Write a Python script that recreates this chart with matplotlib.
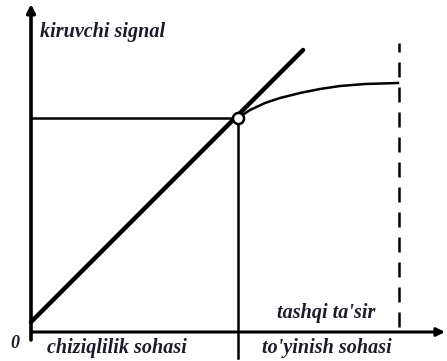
import matplotlib
matplotlib.use("Agg")
from matplotlib import pyplot as plt

# values (origin at the axes corner, units ~ pixels)
line_x = [0, 272]
line_y = [10, 282]
work_x = 207
work_y = 214
curve_x = [207, 219, 234, 249, 269, 289, 309, 334, 367]
curve_y = [214, 222, 229, 234, 239, 243, 246, 248, 249]
limit_x = 368
limit_top = 289
labels = ["chiziqlilik sohasi", "to'yinish sohasi"]
label_x = [86, 296]
y_label = "kiruvchi signal"
limit_label = "tashqi ta'sir"

fig = plt.figure(figsize=(4.47, 3.61), dpi=100)
ax = fig.add_axes([0, 0, 1, 1])
ax.set_xlim(-31, 416)
ax.set_ylim(-29, 332)
ax.axis("off")

font = dict(family="Liberation Serif", style="italic", weight="bold",
            color="#1c1c28")

# axes with arrows
ax.annotate("", xy=(414, 0), xytext=(0, 0),
            arrowprops=dict(arrowstyle="-|>", lw=2.2, color="black",
                            mutation_scale=12, shrinkA=0, shrinkB=0))
ax.annotate("", xy=(0, 328), xytext=(0, -8),
            arrowprops=dict(arrowstyle="-|>", lw=2.6, color="black",
                            mutation_scale=12, shrinkA=0, shrinkB=0))

# linear characteristic
ax.plot(line_x, line_y, color="black", lw=3.2, solid_capstyle="round")

# working point lines
ax.plot([0, work_x], [work_y, work_y], color="black", lw=1.8)
ax.plot([work_x, work_x], [work_y, -26], color="black", lw=1.8)

# saturation curve
ax.plot(curve_x, curve_y, color="black", lw=1.8)
ax.plot([limit_x, limit_x], [5, limit_top], color="black", lw=1.8,
        dashes=(6, 4))
ax.plot(work_x, work_y, "o", ms=8, mfc="white", mec="black", mew=1.8)

ax.text(9, 300, y_label, fontsize=14.5, va="center", ha="left", **font)
ax.text(-16, -11, "0", fontsize=13, va="center", ha="center", **font)
for t, x in zip(labels, label_x):
    ax.text(x, -16, t, fontsize=14.5, va="center", ha="center", **font)
ax.text(295, 19, limit_label, fontsize=14.5, va="center", ha="center", **font)

fig.savefig("out.png", dpi=100)
